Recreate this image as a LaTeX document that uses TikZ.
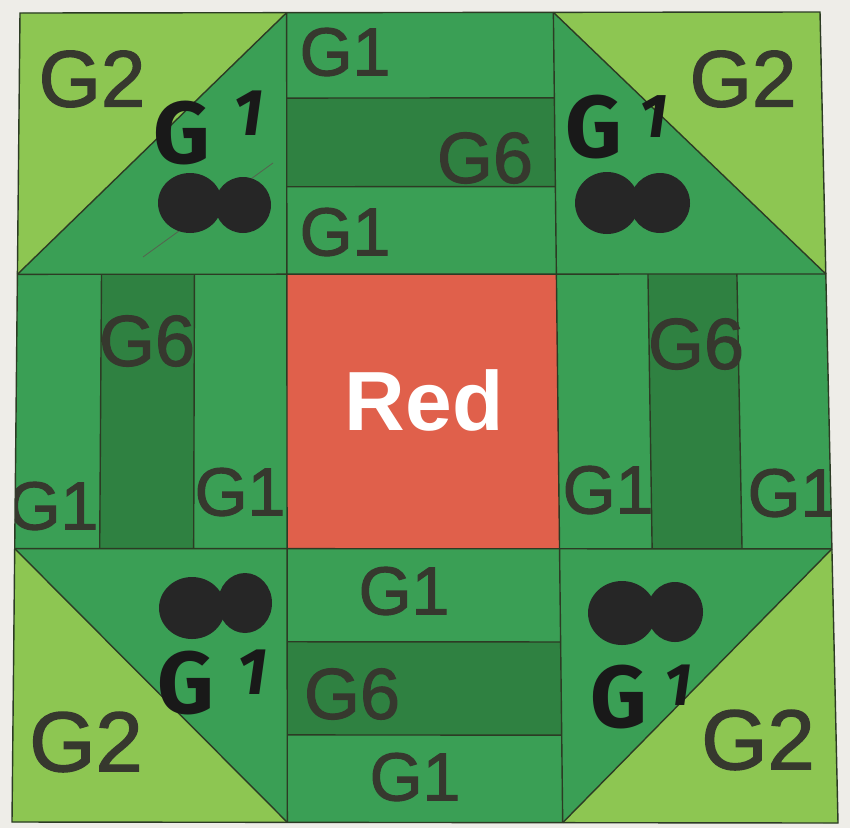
\documentclass[tikz,border=0pt]{standalone}
\usepackage{fontspec}
\setmainfont{Liberation Sans}
\newfontfamily\lblfont{Liberation Sans}[FakeBold=1.6]
\newfontfamily\handfont{Fira Sans}
\definecolor{paper}{HTML}{EEEDE8}
\definecolor{lightg}{HTML}{8DC652}
\definecolor{midg}{HTML}{3A9F55}
\definecolor{darkg}{HTML}{2F8141}
\definecolor{redq}{HTML}{E0604B}
\definecolor{seam}{HTML}{2C3B24}
\definecolor{ink}{HTML}{36382E}
\newcommand\QP[2]{({(1-(#2))*((1-(#1))*20+(#1)*820)+(#2)*((1-(#1))*12+(#1)*838)},{(1-(#2))*((1-(#1))*13+(#1)*12)+(#2)*((1-(#1))*822+(#1)*823)})}
\begin{document}
\begin{tikzpicture}[x=1pt,y=-1pt,
  seamline/.style={draw=seam,line width=1.4pt},
  lbl/.style={text=ink,inner sep=0pt,font=\lblfont\fontsize{68}{68}\selectfont},
  lblsix/.style={text=ink,inner sep=0pt,font=\lblfont\fontsize{72}{72}\selectfont},
  lbltwo/.style={text=ink,inner sep=0pt,font=\lblfont\fontsize{#1}{#1}\selectfont},
  hand/.style={text=black!90,inner sep=0pt,anchor=base west,font=\handfont\bfseries\fontsize{88}{88}\selectfont},
  blob/.style={fill=black!85}]
\useasboundingbox (0,0) rectangle (850,828);
\fill[paper] (0,0) rectangle (850,828);
\def\ua{0.3333}\def\ub{0.6667}\def\va{0.323}\def\vb{0.662}
% base
\fill[midg] \QP{0}{0} -- \QP{1}{0} -- \QP{1}{1} -- \QP{0}{1} -- cycle;
% red centre
\fill[redq] \QP{\ua}{\va} -- \QP{\ub}{\va} -- \QP{\ub}{\vb} -- \QP{\ua}{\vb} -- cycle;
% G6 strips
\fill[darkg] \QP{\ua}{0.1055} -- \QP{\ub}{0.1055} -- \QP{\ub}{0.215} -- \QP{\ua}{0.215} -- cycle;
\fill[darkg] \QP{\ua}{0.777} -- \QP{\ub}{0.777} -- \QP{\ub}{0.892} -- \QP{\ua}{0.892} -- cycle;
\fill[darkg] \QP{0.104}{\va} -- \QP{0.219}{\va} -- \QP{0.219}{\vb} -- \QP{0.104}{\vb} -- cycle;
\fill[darkg] \QP{0.780}{\va} -- \QP{0.890}{\va} -- \QP{0.890}{\vb} -- \QP{0.780}{\vb} -- cycle;
% light corner triangles
\fill[lightg] \QP{0}{0} -- \QP{\ua}{0} -- \QP{0}{\va} -- cycle;
\fill[lightg] \QP{\ub}{0} -- \QP{1}{0} -- \QP{1}{\va} -- cycle;
\fill[lightg] \QP{0}{\vb} -- \QP{\ua}{1} -- \QP{0}{1} -- cycle;
\fill[lightg] \QP{1}{\vb} -- \QP{1}{1} -- \QP{\ub}{1} -- cycle;
% seams
\draw[seamline] \QP{0}{0} -- \QP{1}{0} -- \QP{1}{1} -- \QP{0}{1} -- cycle;
\draw[seamline] \QP{\ua}{0} -- \QP{\ua}{1};
\draw[seamline] \QP{\ub}{0} -- \QP{\ub}{1};
\draw[seamline] \QP{0}{\va} -- \QP{1}{\va};
\draw[seamline] \QP{0}{\vb} -- \QP{1}{\vb};
\draw[seamline] \QP{\ua}{0.1055} -- \QP{\ub}{0.1055};
\draw[seamline] \QP{\ua}{0.215} -- \QP{\ub}{0.215};
\draw[seamline] \QP{\ua}{0.777} -- \QP{\ub}{0.777};
\draw[seamline] \QP{\ua}{0.892} -- \QP{\ub}{0.892};
\draw[seamline] \QP{0.104}{\va} -- \QP{0.104}{\vb};
\draw[seamline] \QP{0.219}{\va} -- \QP{0.219}{\vb};
\draw[seamline] \QP{0.780}{\va} -- \QP{0.780}{\vb};
\draw[seamline] \QP{0.890}{\va} -- \QP{0.890}{\vb};
\draw[seamline] \QP{\ua}{0} -- \QP{0}{\va};
\draw[seamline] \QP{\ub}{0} -- \QP{1}{\va};
\draw[seamline] \QP{0}{\vb} -- \QP{\ua}{1};
\draw[seamline] \QP{1}{\vb} -- \QP{\ub}{1};
% pencil line
\draw[seam!80,line width=0.8pt] (143,257) -- (273,163);
% printed labels
\begin{scope}
\clip \QP{0}{0} -- \QP{1}{0} -- \QP{1}{1} -- \QP{0}{1} -- cycle;
\node[lbltwo=80] (g2tl) at (92,79) {G2};
\node[lbltwo=80] (g2tr) at (743,79) {G2};
\node[lbltwo=85] (g2bl) at (86,742) {G2};
\node[lbltwo=85] (g2br) at (758,740) {G2};
\node[lbl] (g1t1) at (345,52) {G1};
\node[lblsix] (g6t) at (485,158) {G6};
\node[lbl] (g1t2) at (345,232) {G1};
\node[lblsix] (g6l) at (147,341) {G6};
\node[lbl] (g1l1) at (53,506) {G1};
\node[lbl] (g1l2) at (240,492) {G1};
\node[lblsix] (g6r) at (696,344) {G6};
\node[lbl] (g1r1) at (608,490) {G1};
\node[lbl] (g1r2) at (793,493) {G1};
\node[lbl] (g1b1) at (404,591) {G1};
\node[lblsix] (g6b) at (352,694) {G6};
\node[lbl] (g1b2) at (415,777) {G1};
\end{scope}
\node[text=white,inner sep=0pt,font=\bfseries\fontsize{84}{84}\selectfont] (red) at (424,400) {Red};
% scribbled-out marks
\fill[blob] (190,203) ellipse [x radius=32,y radius=30];
\fill[blob] (243,205) ellipse [x radius=28,y radius=28];
\fill[blob] (607,203) ellipse [x radius=32,y radius=31];
\fill[blob] (660,203) ellipse [x radius=30,y radius=30];
\fill[blob] (192,608) ellipse [x radius=33,y radius=31];
\fill[blob] (245,603) ellipse [x radius=27,y radius=30];
\fill[blob] (622,613) ellipse [x radius=34,y radius=32];
\fill[blob] (675,612) ellipse [x radius=28,y radius=30];
% handwritten labels
\node[hand] (htl) at (153,163) {G\hspace{24pt}\raisebox{28pt}{\itshape\fontsize{66}{66}\selectfont 1}};
\node[hand] (htr) at (565,157) {G\hspace{18pt}\raisebox{20pt}{\itshape\fontsize{62}{62}\selectfont 1}};
\node[hand] (hbl) at (157,713) {G\hspace{24pt}\raisebox{19pt}{\itshape\fontsize{66}{66}\selectfont 1}};
\node[hand] (hbr) at (590,727) {G\hspace{18pt}\raisebox{22pt}{\itshape\fontsize{60}{60}\selectfont 1}};
\end{tikzpicture}
\end{document}
